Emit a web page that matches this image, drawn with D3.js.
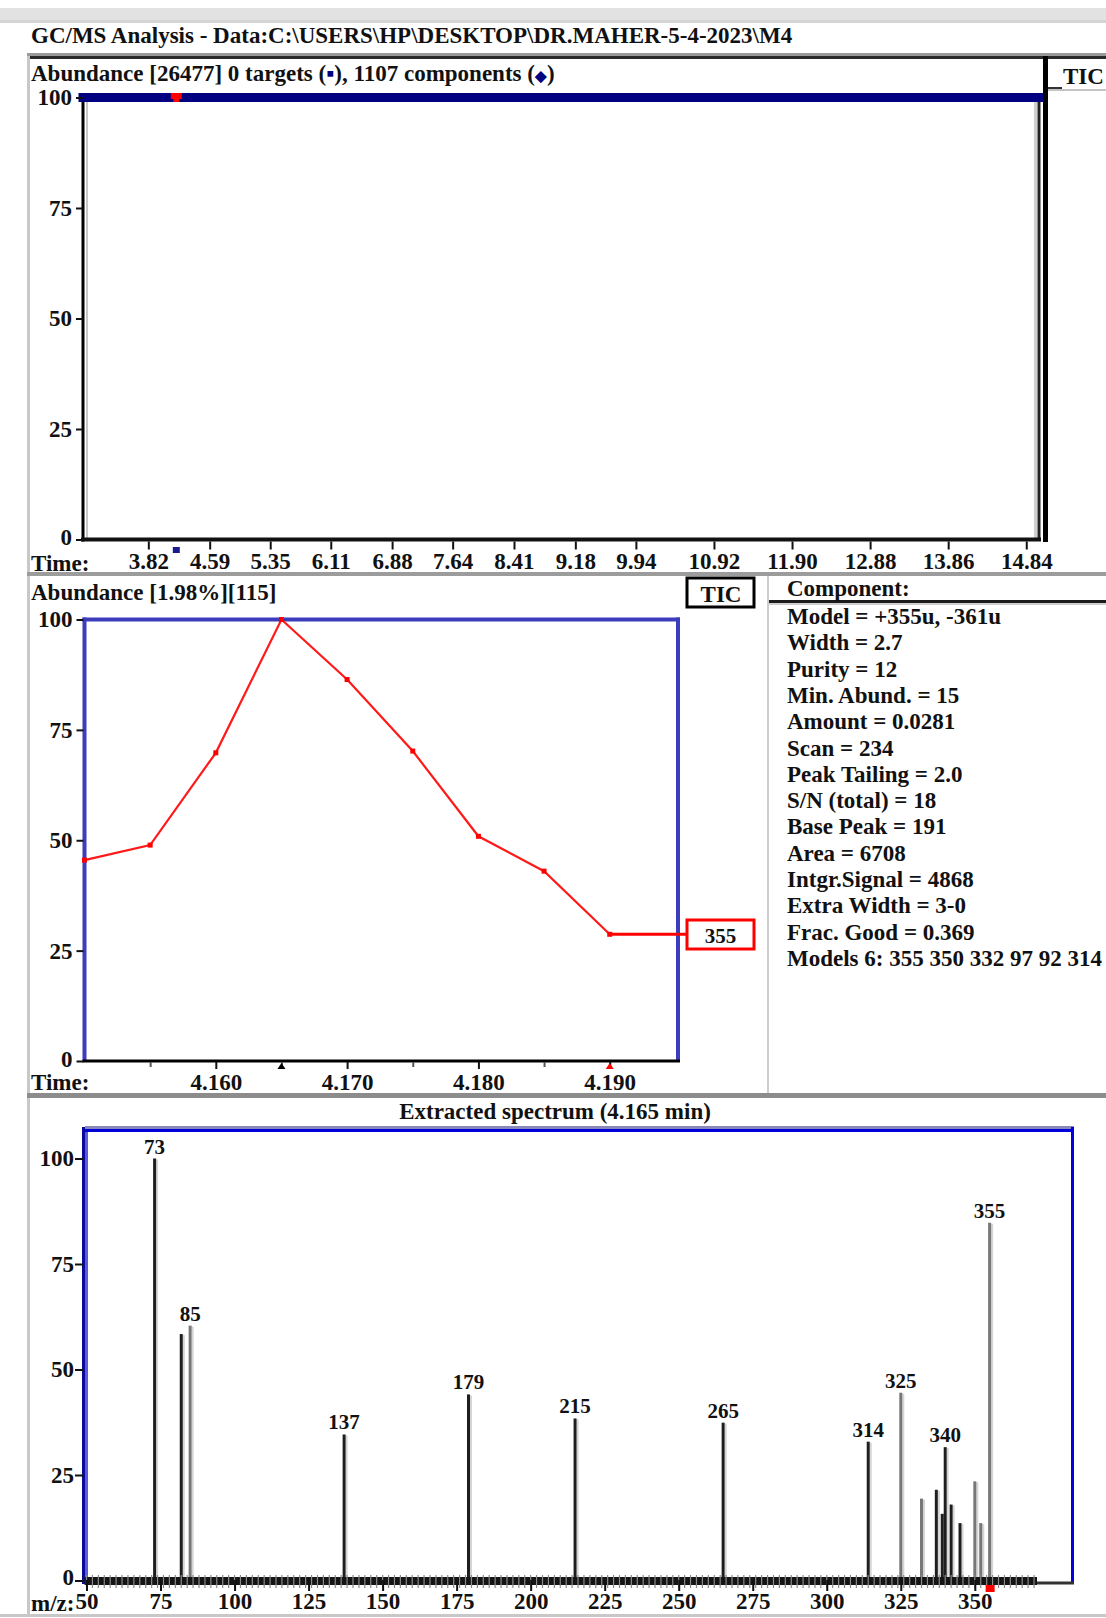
<!DOCTYPE html>
<html><head><meta charset="utf-8">
<script src="https://cdn.jsdelivr.net/npm/d3@7"></script>
<style>
html,body{margin:0;padding:0;background:#fff;}
svg{display:block;}
text{font-family:"Liberation Serif","Times New Roman",serif;font-weight:bold;fill:#111;}
</style></head><body>
<svg id="c" width="1106" height="1618"></svg>
<script>
// ---------- data ----------
const titleText = "GC/MS Analysis - Data:C:\\USERS\\HP\\DESKTOP\\DR.MAHER-5-4-2023\\M4";
const ticHeader = ["Abundance [26477] 0 targets (", "▪", "), 1107 components (", "◆", ")"];
const ticTimeTicks = [3.82, 4.59, 5.35, 6.11, 6.88, 7.64, 8.41, 9.18, 9.94, 10.92, 11.90, 12.88, 13.86, 14.84];
const ticTimes = [3.0, 15.0];
const ticAbund = [100, 100];
const componentTime = 4.165;
const abundTicks = [0, 25, 50, 75, 100];

const eicHeader = "Abundance [1.98%][115]";
const eicTimes = [4.150, 4.155, 4.160, 4.165, 4.170, 4.175, 4.180, 4.185, 4.190];
const eicAbund = [45.5, 48.9, 69.8, 100, 86.4, 70.2, 50.9, 43.0, 28.7];
const eicTimeTicks = [4.160, 4.170, 4.180, 4.190];
const eicMinorTicks = [4.155, 4.165, 4.175, 4.185];
const eicIon = "355";
const eicMarkTimes = [4.165, 4.190];

const componentLines = [
  "Component:",
  "Model = +355u, -361u",
  "Width = 2.7",
  "Purity = 12",
  "Min. Abund. = 15",
  "Amount = 0.0281",
  "Scan = 234",
  "Peak Tailing = 2.0",
  "S/N (total) = 18",
  "Base Peak = 191",
  "Area = 6708",
  "Intgr.Signal = 4868",
  "Extra Width = 3-0",
  "Frac. Good = 0.369",
  "Models 6: 355 350 332 97 92 314"
];

const spectrumTitle = "Extracted spectrum (4.165 min)";
const spectrumMz =    [73, 82, 85, 137, 179, 215, 265, 314, 325, 332, 337, 339, 340, 342, 345, 350, 352, 355];
const spectrumAbund = [100, 58.4, 60.4, 34.6, 44.1, 38.4, 37.4, 32.9, 44.5, 19.4, 21.5, 15.8, 31.6, 18.0, 13.6, 23.5, 13.6, 84.8];
const labeledMz = [73, 85, 137, 179, 215, 265, 314, 325, 340, 355];
const mzTicks = [50, 75, 100, 125, 150, 175, 200, 225, 250, 275, 300, 325, 350];
const mzMarker = 355;

// ---------- styles (not data) ----------
const grayPeaks = new Set([85, 325, 332, 350, 352, 355]);

const svg = d3.select("#c");
const FS = 23;

function styleAxis(g, fs) {
  g.select(".domain").remove();
  g.selectAll(".tick line").attr("stroke", "#111").attr("stroke-width", 2);
  g.selectAll(".tick text").attr("font-size", fs || FS).attr("fill", "#111")
    .attr("font-family", '"Liberation Serif","Times New Roman",serif').attr("font-weight", "bold");
}
function liftZero(g, px) {
  g.selectAll(".tick").filter(d => d === 0).select("text").attr("y", -px);
}

// ---------- page chrome ----------
svg.append("rect").attr("x", 0).attr("y", 8).attr("width", 1106).attr("height", 15).attr("fill", "#e2e2e2");
svg.append("rect").attr("x", 0).attr("y", 20).attr("width", 1106).attr("height", 3).attr("fill", "#d4d4d4");
svg.append("text").attr("x", 31).attr("y", 43).attr("font-size", FS).text(titleText);

// panel borders
svg.append("rect").attr("x", 27).attr("y", 53).attr("width", 1079).attr("height", 3).attr("fill", "#9a9a9a");
svg.append("rect").attr("x", 30).attr("y", 56).attr("width", 1076).attr("height", 3).attr("fill", "#2a2a2a");
svg.append("rect").attr("x", 27).attr("y", 56).attr("width", 3).attr("height", 1560).attr("fill", "#c8c8c8");
svg.append("rect").attr("x", 0).attr("y", 1614).attr("width", 1106).attr("height", 3).attr("fill", "#c8c8c8");

// ---------- top TIC panel ----------
const xT = d3.scaleLinear().domain([3, 15]).range([83, 1039]);
const yT = d3.scaleLinear().domain([0, 100]).range([539.5, 97.5]);

const h1 = svg.append("text").attr("x", 31).attr("y", 81).attr("font-size", FS);
ticHeader.forEach((s, i) => h1.append("tspan").attr("fill", i % 2 ? "#000080" : "#111")
  .attr("font-size", i === 3 ? 15 : FS).text(s));

// black vertical separator + TIC tab
svg.append("rect").attr("x", 1043).attr("y", 56).attr("width", 5).attr("height", 486).attr("fill", "#000");
svg.append("rect").attr("x", 1048).attr("y", 87).attr("width", 14).attr("height", 2).attr("fill", "#333");
svg.append("rect").attr("x", 1048).attr("y", 89).attr("width", 58).attr("height", 2).attr("fill", "#c4c4c4");
svg.append("text").attr("x", 1063).attr("y", 84).attr("font-size", FS).text("TIC");

// frame
svg.append("rect").attr("x", 86).attr("y", 100).attr("width", 2).attr("height", 438).attr("fill", "#c8c8c8");
svg.append("rect").attr("x", 1034).attr("y", 102).attr("width", 3).attr("height", 436).attr("fill", "#cfcfcf");
svg.append("line").attr("x1", xT(15)).attr("x2", xT(15)).attr("y1", yT(99)).attr("y2", yT(0))
  .attr("stroke", "#222").attr("stroke-width", 3);
svg.append("line").attr("x1", xT(3)).attr("x2", xT(3)).attr("y1", yT(100)).attr("y2", yT(0) + 2)
  .attr("stroke", "#000").attr("stroke-width", 3);
svg.append("line").attr("x1", xT(3) - 2).attr("x2", xT(15) + 2).attr("y1", yT(0)).attr("y2", yT(0))
  .attr("stroke", "#111").attr("stroke-width", 4);

// TIC trace (saturated at 100%)
svg.append("path").datum(ticTimes.map((t, i) => [t, ticAbund[i]]))
  .attr("d", d3.line().x(d => xT(d[0])).y(d => yT(d[1])))
  .attr("stroke", "#000080").attr("stroke-width", 9).attr("stroke-linecap", "square").attr("fill", "none");

// component marker on top and below axis
const cx = xT(componentTime);
svg.append("path").attr("d", `M${cx - 5},${yT(100) - 4.5}h11v6h-2.5v3h-6v-3h-2.5z`).attr("fill", "#f00");
svg.append("rect").attr("x", cx - 3).attr("y", 547).attr("width", 7).attr("height", 6).attr("fill", "#1a1a90");

const gTy = svg.append("g").attr("transform", `translate(${xT(3)},0)`)
  .call(d3.axisLeft(yT).tickValues(abundTicks).tickSize(7).tickPadding(4).tickFormat(d3.format("d")));
styleAxis(gTy);
liftZero(gTy, 2);
const gTx = svg.append("g").attr("transform", `translate(0,${yT(0) + 2})`)
  .call(d3.axisBottom(xT).tickValues(ticTimeTicks).tickSize(8).tickPadding(3).tickFormat(d3.format(".2f")));
styleAxis(gTx);
svg.append("text").attr("x", 31).attr("y", 571).attr("font-size", FS).text("Time:");

// separator
svg.append("rect").attr("x", 27).attr("y", 572).attr("width", 1079).attr("height", 4).attr("fill", "#9c9c9c");

// ---------- middle EIC panel ----------
const xE = d3.scaleLinear().domain([4.15, 4.1952]).range([84.5, 678]);
const yE = d3.scaleLinear().domain([0, 100]).range([1061, 619.5]);

svg.append("text").attr("x", 31).attr("y", 600).attr("font-size", FS).text(eicHeader);
svg.append("rect").attr("x", 687).attr("y", 578).attr("width", 67).attr("height", 29)
  .attr("fill", "#fff").attr("stroke", "#000").attr("stroke-width", 3);
svg.append("text").attr("x", 721).attr("y", 602).attr("text-anchor", "middle").attr("font-size", FS).text("TIC");

// blue frame
const blueE = "#3c3cbc";
svg.append("line").attr("x1", xE.range()[0] - 2).attr("x2", xE.range()[1] + 2).attr("y1", yE(100)).attr("y2", yE(100))
  .attr("stroke", blueE).attr("stroke-width", 4);
svg.append("line").attr("x1", xE.range()[0]).attr("x2", xE.range()[0]).attr("y1", yE(100) - 2).attr("y2", yE(0))
  .attr("stroke", blueE).attr("stroke-width", 4);
svg.append("line").attr("x1", xE.range()[1]).attr("x2", xE.range()[1]).attr("y1", yE(100) - 2).attr("y2", yE(0))
  .attr("stroke", blueE).attr("stroke-width", 4);
svg.append("line").attr("x1", xE.range()[0] - 2).attr("x2", xE.range()[1] + 2).attr("y1", yE(0)).attr("y2", yE(0))
  .attr("stroke", "#000").attr("stroke-width", 3);

const gEy = svg.append("g").attr("transform", `translate(${xE.range()[0] - 1},0)`)
  .call(d3.axisLeft(yE).tickValues(abundTicks).tickSize(7).tickPadding(4).tickFormat(d3.format("d")));
styleAxis(gEy);
liftZero(gEy, 2);
const gEx = svg.append("g").attr("transform", `translate(0,${yE(0) + 1})`)
  .call(d3.axisBottom(xE).tickValues(eicTimeTicks).tickSize(7).tickPadding(5).tickFormat(d3.format(".3f")));
styleAxis(gEx);
const gEm = svg.append("g").attr("transform", `translate(0,${yE(0) + 1})`)
  .call(d3.axisBottom(xE).tickValues(eicMinorTicks).tickSize(5).tickFormat(""));
styleAxis(gEm);
gEm.selectAll(".tick line").attr("stroke", "#555");
svg.append("text").attr("x", 31).attr("y", 1090).attr("font-size", FS).text("Time:");

// triangles under axis
eicMarkTimes.forEach((t, i) => {
  const x = xE(t), y = yE(0) + 2;
  svg.append("path").attr("d", `M${x},${y}l4,6h-8z`).attr("fill", i === 0 ? "#000" : "#f00");
});

// red trace
const eicPts = eicTimes.map((t, i) => [t, eicAbund[i]]);
svg.append("path").datum(eicPts)
  .attr("d", d3.line().x(d => xE(d[0])).y(d => yE(d[1])))
  .attr("stroke", "#ff1a1a").attr("stroke-width", 2.2).attr("fill", "none");
svg.selectAll(".eicpt").data(eicPts).enter().append("rect")
  .attr("x", d => xE(d[0]) - 2.5).attr("y", d => yE(d[1]) - 2.5).attr("width", 5).attr("height", 5).attr("fill", "#f00");
// ion label box
const last = eicPts[eicPts.length - 1];
svg.append("line").attr("x1", xE(last[0])).attr("x2", 687).attr("y1", yE(last[1])).attr("y2", yE(last[1]))
  .attr("stroke", "#f00").attr("stroke-width", 3);
svg.append("rect").attr("x", 687).attr("y", 920).attr("width", 67).attr("height", 29)
  .attr("fill", "#fff").attr("stroke", "#f00").attr("stroke-width", 3);
svg.append("text").attr("x", 720.5).attr("y", 943).attr("text-anchor", "middle").attr("font-size", 21)
  .attr("fill", "#f22").text(eicIon);

// component info panel
svg.append("rect").attr("x", 767).attr("y", 576).attr("width", 2).attr("height", 517).attr("fill", "#cdcdcd");
svg.append("rect").attr("x", 769).attr("y", 600).attr("width", 337).attr("height", 3).attr("fill", "#1c1c1c");
svg.append("rect").attr("x", 769).attr("y", 603).attr("width", 337).attr("height", 2).attr("fill", "#cfcfcf");
svg.selectAll(".comp").data(componentLines).enter().append("text")
  .attr("x", 787).attr("y", (d, i) => i === 0 ? 596 : 624 + (i - 1) * 26.3)
  .attr("font-size", FS).text(d => d);

// separator
svg.append("rect").attr("x", 27).attr("y", 1093).attr("width", 1079).attr("height", 5).attr("fill", "#8c8c8c");

// ---------- bottom spectrum panel ----------
const xS = d3.scaleLinear().domain([50, 371]).range([86.5, 1037]);
const yS = d3.scaleLinear().domain([0, 100]).range([1580.5, 1158.5]);

svg.append("text").attr("x", 555).attr("y", 1119).attr("text-anchor", "middle").attr("font-size", FS).text(spectrumTitle);

// frame
svg.append("line").attr("x1", 85).attr("x2", 1074).attr("y1", 1127.5).attr("y2", 1127.5).attr("stroke", "#8888bb").attr("stroke-width", 3);
svg.append("line").attr("x1", 82).attr("x2", 1074).attr("y1", 1130.5).attr("y2", 1130.5).attr("stroke", "#0000d8").attr("stroke-width", 3);
svg.append("line").attr("x1", 83.5).attr("x2", 83.5).attr("y1", 1127).attr("y2", 1584).attr("stroke", "#0a0a9a").attr("stroke-width", 3);
svg.append("line").attr("x1", 86.5).attr("x2", 86.5).attr("y1", 1132).attr("y2", 1578).attr("stroke", "#5a5ae0").attr("stroke-width", 3);
svg.append("line").attr("x1", 1072.5).attr("x2", 1072.5).attr("y1", 1127).attr("y2", 1584).attr("stroke", "#0000e0").attr("stroke-width", 3);
svg.append("line").attr("x1", 1036).attr("x2", 1074).attr("y1", 1583).attr("y2", 1583).attr("stroke", "#333").attr("stroke-width", 3);

// peaks
const peaks = spectrumMz.map((m, i) => [m, spectrumAbund[i]]);
svg.selectAll(".shadow").data(peaks).enter().append("line")
  .attr("x1", d => xS(d[0]) + 2.5).attr("x2", d => xS(d[0]) + 2.5)
  .attr("y1", yS(0)).attr("y2", d => yS(d[1]) + 1)
  .attr("stroke", "#d4d4d4").attr("stroke-width", 2);
svg.selectAll(".peak").data(peaks).enter().append("line")
  .attr("x1", d => xS(d[0])).attr("x2", d => xS(d[0]))
  .attr("y1", yS(0)).attr("y2", d => yS(d[1]))
  .attr("stroke", d => grayPeaks.has(d[0]) ? "#777" : "#1e1e1e").attr("stroke-width", 3);
svg.selectAll(".plab").data(peaks.filter(d => labeledMz.includes(d[0]))).enter().append("text")
  .attr("x", d => xS(d[0])).attr("y", d => yS(d[1]) - 5).attr("text-anchor", "middle")
  .attr("font-size", 21).text(d => d[0]);

// baseline band with hatch
svg.append("rect").attr("x", xS(50) - 2).attr("y", 1577).attr("width", xS(371) - xS(50) + 2).attr("height", 8).attr("fill", "#151515");
const hatch = d3.range(50, 371, 2);
svg.selectAll(".hatch").data(hatch).enter().append("line")
  .attr("x1", d => xS(d)).attr("x2", d => xS(d)).attr("y1", 1575).attr("y2", 1588)
  .attr("stroke", "#8a8a8a").attr("stroke-width", 1.2);

const gSy = svg.append("g").attr("transform", `translate(83,0)`)
  .call(d3.axisLeft(yS).tickValues(abundTicks).tickSize(8).tickPadding(1).tickFormat(d3.format("d")));
styleAxis(gSy);
liftZero(gSy, 3);
const gSx = svg.append("g").attr("transform", `translate(0,1580)`)
  .call(d3.axisBottom(xS).tickValues(mzTicks).tickSize(11).tickPadding(2).tickFormat(d3.format("d")));
styleAxis(gSx);
svg.append("text").attr("x", 31).attr("y", 1611).attr("font-size", FS).text("m/z:");
svg.append("rect").attr("x", xS(mzMarker) - 4).attr("y", 1585).attr("width", 9).attr("height", 7).attr("fill", "#f00");
</script>
</body></html>
